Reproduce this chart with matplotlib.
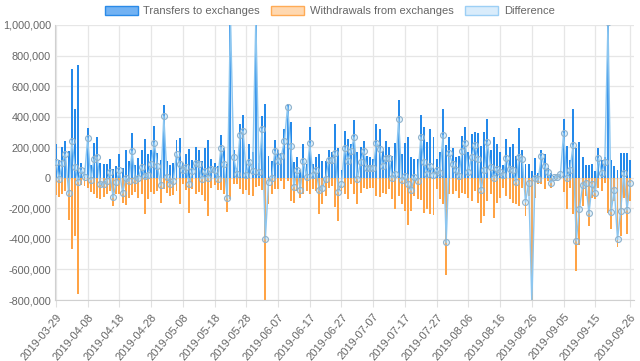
import matplotlib
matplotlib.use("Agg")
import matplotlib.pyplot as plt
from matplotlib.patches import Patch
from matplotlib.ticker import FuncFormatter
import numpy as np
import pandas as pd

plt.rcParams["font.family"] = ["Liberation Sans", "DejaVu Sans"]

# daily values, thousands of units
start_date = "2019-03-29"
transfers = [
    222, 116, 203, 240, 174, 709, 451, 735, 98, 65, 327, 81, 229, 266, 94, 87, 87, 124, 59, 76,
    157, 65, 181, 109, 290, 81, 131, 179, 251, 157, 185, 338, 164, 116, 475,
    109, 83, 98, 244, 262, 98, 153, 190, 116, 203, 185, 109, 196, 246, 126, 98, 76, 277, 196, 92,
    1200, 179, 65, 353, 410, 98, 222, 168, 1100, 98, 403, 480, 142, 109, 244, 185, 163,
    316, 486, 364, 105, 135, 54, 222, 92, 334, 92, 135, 157, 109, 113, 179, 170, 355, 192, 48,
    305, 255, 222, 375, 168, 200, 240, 142, 137, 126, 349, 316, 174, 240, 203, 142, 229, 506,
    153, 229, 268, 137, 124, 124, 414, 331, 233, 320, 264, 124, 170, 451, 216, 268, 196, 137, 142,
    273, 334, 170, 288, 301, 290, 211, 301, 386, 179, 266, 224, 168, 81, 251,
    201, 218, 142, 323, 185, 92, 87, 44, 131, 33, 185, 153, 61, 33, 13, 13, 26, 386, 207, 116,
    453, 196, 235, 135, 83, 83, 87, 44, 192, 116, 135, 1250, 116, 76, 50, 164, 164, 159, 116,
]
withdrawals = [
    116, 127, 105, 87, 275, 466, 378, 761, 50, 57, 66, 94, 109, 131, 138, 127, 109, 87, 188, 105,
    109, 166, 181, 131, 116, 94, 131, 109, 240, 138, 94, 109, 87, 166, 72, 101, 122, 116, 87, 171,
    44, 83, 232, 72, 109, 94, 116, 153, 247, 66, 50, 83, 79, 109, 225, 138, 44, 39, 72, 105,
    83, 116, 122, 61, 57, 83, 880, 171, 109, 72,
    76, 22, 76, 22, 153, 164, 87, 131, 109, 87, 109, 76, 87, 240, 174, 120, 65, 54, 192, 283,
    87, 109, 142, 44, 109, 174, 98, 65, 76, 70, 65, 120, 126, 98, 109, 76, 142,
    203, 120, 170, 218, 310, 218, 120, 142, 148, 229, 207, 240, 246, 76, 142, 174, 639, 109, 109,
    87, 131, 98, 109, 131, 153, 87, 164, 294, 251, 153, 109, 266, 164, 131, 65, 120,
    142, 164, 170, 185, 65, 251, 120, 870, 131, 44, 44, 76, 22, 65, 11, 7, 4, 95, 207, 65,
    240, 610, 440, 185, 120, 316, 131, 142, 65, 87, 33, 229, 338, 153, 453, 381, 131, 371, 153,
]

t = np.array(transfers) * 1000
w = -np.array(withdrawals) * 1000
diff = t + w
dates = pd.date_range(start_date, periods=len(t)).strftime("%Y-%m-%d")
x = np.arange(len(t))

fig = plt.figure(figsize=(6.4, 3.61), dpi=100)
ax = fig.add_axes([55 / 640, 1 - 300 / 361, 579 / 640, 275 / 361])

ax.bar(x, t, width=0.62, color="#2489ea", zorder=2)
ax.bar(x, w, width=0.62, color="#ffa345", zorder=2)
ax.fill_between(x, diff, 0, color="#9fd0f5", alpha=0.2, lw=0, zorder=3)
ax.plot(x, diff, color="#8cc6f0", lw=1.0, zorder=4,
        marker="o", ms=4.3, mfc=(0.62, 0.82, 0.96, 0.3), mec="#8fb2cc", mew=0.8)

ax.set_ylim(-800000, 1000000)
ax.set_yticks(np.arange(-800000, 1000001, 200000))
ax.yaxis.set_major_formatter(FuncFormatter(lambda v, p: f"{int(v):,}"))
ax.set_xlim(-0.3, len(t) + 0.2)

tick_idx = list(range(0, len(t) - 5, 10)) + [len(t) - 1]
ax.set_xticks(tick_idx)
ax.set_xticklabels([dates[i] for i in tick_idx], rotation=50, ha="right",
                   rotation_mode="anchor")

ax.grid(True, color="#e6e6e6", lw=0.9, zorder=0)
ax.set_axisbelow(True)
for s in ["top", "right"]:
    ax.spines[s].set_visible(False)
for s in ["left", "bottom"]:
    ax.spines[s].set_color("#d0d0d0")
ax.tick_params(colors="#666666", labelsize=8, width=0.8)
ax.tick_params(axis="both", color="#e0e0e0")
ax.tick_params(axis="y", length=0, pad=3, labelsize=7.8)
ax.tick_params(axis="x", length=5)

handles = [
    Patch(facecolor="#72b2f3", edgecolor="#2a8ae8", lw=1),
    Patch(facecolor="#ffd8b0", edgecolor="#ffab55", lw=1),
    Patch(facecolor="#d9ecfb", edgecolor="#9ccff5", lw=1),
]
fig.legend(handles, ["Transfers to exchanges", "Withdrawals from exchanges", "Difference"],
           loc="upper center", bbox_to_anchor=(0.515, 1.012), ncol=3, frameon=False,
           fontsize=8, handlelength=3.0, handleheight=0.9, columnspacing=1.0,
           handletextpad=0.5, labelcolor="#666666")

fig.savefig("out.png", dpi=100)
